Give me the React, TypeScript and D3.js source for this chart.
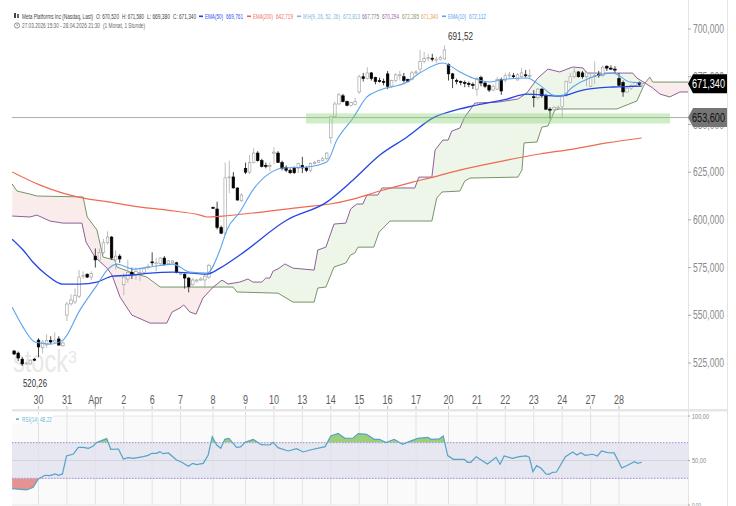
import React from "react";
import * as d3 from "d3";

// open, high, low, close – hourly bars, first bar has index 1
const candles: number[][] = [
[531.3,531.8,529.2,529.7],[530.2,531,526,527.6],[527,528,523.5,524.5],[525,525.6,524.4,525],[524.5,527,524,526.5],[527,527.5,526,526.5],
[537,538,528,533.4],[533,537,530,536],[534.5,540,533,536.8],[536.8,539,535,536],[536,541,535.5,537],[537.6,539,534,534.4],[534,537,533.5,535.5],
[550.1,557,547,555.9],[556,561,555,558],[557,564,556,560.5],[560,573.7,559,570],[570.5,573,569,571],[571.5,572,569.5,570],[570,573,568.5,572],
[581,585,575,579],[579,585,578,583],[583,590,582,588],[588,594,587,591],[591,591.5,579,580],[579,584,574,581],[581,582,577.5,579.5],
[566,572,560.5,570],[569,579,567,572.5],[572.5,575,569,571.5],[571,575,568.5,573],[572,575,568,572.5],[572.5,575.5,572,574.5],[575,577,574,575.5],
[578,583,576,577.5],[577,580,573,577.5],[577,580.5,576.5,580],[580,581,576,576.5],[577,579,576.5,578.5],[577.5,579,577,578.5],[577.5,578,572,572.5],
[572,572.5,571,572],[571.5,572,564,569.5],[569.5,570,562,565],[566,569.5,565.5,568.5],[568,569,567,568.5],[568.5,570,568,569],[568.5,572,564,570.5],[570,577,569,576],
[606.5,607,606,606.3],[605.7,609.5,595,596],[596,597,592.5,593],[593,630,592,622],[622,631,614,622.5],[622.5,625,616.5,616.7],[616.7,617,610,610.4],[610,614,609.5,613],
[627,630,624,625],[625,634,624,630],[630,637.5,629.5,635],[635,636,630.5,631],[631,632,627.5,628],[628.5,630,627,628],[628,630,625.5,628.5],
[635,638,629,635.5],[635,636,630,630],[630,631,626,627],[627.5,628.5,625,626],[626,627,624,624.7],[627,628,624,624.7],[627,630,624.5,629.5],
[628.5,633,624.5,627.2],[627.2,628,625,626],[626,630,624.8,629.5],[629.5,631,629,630],[630,631.5,630,631],[631,633,630.5,632],[632,635.5,631.5,635],
[643,654.5,640,654],[654,662,653.5,660.7],[660.7,666.5,660.5,665.5],[665,666,661.5,662],[662,662.5,659.5,660],[660,662,659.5,661.5],[660.5,664,660,662],
[667,676,666,675],[675,677,672.5,674],[674,680,673.5,677],[677,677.5,673,674],[674.5,675,671,672.5],[673,674.5,672,672.7],[672.5,674,670.5,672],
[676.5,678,668.5,670],[670,673.5,669,673],[673,677,672,676],[675.5,678,673,676],[675,677,672,673],[673.5,674,672,672.5],[673.5,678,673,677],
[677,678.5,676,677.5],[679,689,677,683],[683,688,682,684.5],[684.5,687,683,685],[684.7,687,683,684.5],[684,685.5,682,684.2],[684,686,683.5,685],[684.3,691.5,684,689],
[681.5,682,673,676.5],[676.5,677,669,674],[673,674,671,672.5],[672.5,673,670.5,672],[672,673,669.5,671.5],[671.5,672.5,669.5,671.4],[671,672,668.5,670.8],
[668.5,675,665,674],[674.5,675.5,670,671.7],[671.7,672.5,669,670],[670.5,671,667,668],[668,671,667.5,670],[668.5,675,668,673.5],[673.5,674.5,665.5,667.5],
[673,677,672,675.5],[675.5,677.5,674,676],[675.5,677,674,675.2],[673.3,677,673,676],[675,679.5,674.5,677],[676,678.5,674.5,675.7],[675.5,679,674,675.7],
[664.5,668,659,664],[664,669,663,668.5],[668.5,669,664,665],[665,666,657.5,658],[658,659,653,657.5],[658,659.5,657,659],[658.7,660,658,659],
[659.5,666,653,665],[665,673,664.5,672.5],[672,677,671.5,675],[675,680,674,677.5],[677.5,678,674.5,675],[677,678,674,675],[675,678,670,677],
[670,677.5,669.5,674.5],[675.5,683,671,675.7],[676.3,678,674.5,675.5],[675.5,681,675,680],[680.5,681,678,679.5],[679.5,681,678.5,679.3],[679,680.5,677,678.8],
[674,677,670,670.5],[672,673,664.5,667],[667,670,666.5,669],[669,671,668,670.5],[670.5,672.5,670,672],[672,672.5,670,671],[670.52,671.58,669.38,671.34],
];

const ema200: number[][] = [[0.5,625.1],[7.4,618.2],[13,614],[18,611.4],[24.6,609.3],[30.3,607.2],[38.6,605.1],[46.8,602.5],[48.5,601.5],[52.4,602],[59.8,603.6],[72.1,606.7],[78.8,608.3],[84.5,610.9],[91.1,615.1],[99.2,619.8],[104.2,622.4],[110.8,626.1],[122.4,631.3],[130.5,634.5],[138.6,637.1],[147,640.3],[155.6,642.9]];
const ema50: number[][] = [[0.5,589.9],[3.2,584.2],[5.6,577.9],[9.1,571],[13,566.3],[17.2,566.3],[21.4,567.4],[25.3,570.5],[30.3,571.1],[34.5,572.1],[40.1,572.6],[45,572.1],[48.5,571.6],[51.7,574.7],[56.6,581.6],[68.2,599.9],[78,609.3],[84.5,620.9],[91.1,634],[97.8,643.4],[104.2,653.4],[110.8,658.1],[114,659.7],[122.4,663.3],[127.3,665.9],[135.4,664.9],[141.1,668],[148.5,669.6],[155.6,670.1]];
const ema10: number[][] = [[0.5,554.3],[3.2,543.8],[6.1,536],[9.8,534.9],[13,537],[17.2,552.7],[21.4,565.8],[23.9,573.7],[26.3,576.8],[30.3,574.2],[34.5,575.3],[40.1,576.8],[44.3,572.6],[48.5,572.1],[51.7,584.2],[53.4,594.7],[56.6,604.1],[59.8,615.6],[64,624.5],[67.2,627.2],[73.1,627.7],[78,630.3],[80.5,641.8],[84.5,653.4],[87.9,664.4],[91.1,668],[97.8,672.2],[100.9,676.9],[106.6,682.2],[110.8,677.5],[114,674.3],[118.2,672.2],[120.7,673.3],[127.3,674.3],[130.5,670.6],[133.7,665.4],[135.9,664.9],[138.6,669.6],[142.8,674.3],[148.5,676.9],[152.7,672.2],[155.6,671.7]];
const spanPurple: number[][] = [[0.5,602],[4.9,601.5],[6.6,602.5],[9.8,599.4],[13,598.3],[17.7,598.3],[18.7,588.4],[20.9,580.5],[23.9,574.7],[25.1,571.1],[27.1,559.5],[30,550.1],[34.5,545.9],[38.6,545.9],[39.9,551.7],[41.8,553.8],[42.8,555.4],[44.3,551.7],[45.8,550.6],[47.5,559],[50,564.7],[52.2,568.4],[53.7,566.4],[56.6,567.4],[58.6,569],[59.8,567.4],[62,567.4],[63,569.5],[64,569.5],[64.8,573.2],[66,574.3],[67.7,576.9],[69.7,574.7],[74.9,573.7],[75.8,584.2],[77.8,585.7],[79.8,597.8],[82.7,598.3],[83.9,605.7],[85.4,608.3],[86.9,608.3],[87.9,613],[90.6,613],[91.6,616.7],[99.7,616.7],[100.7,622.4],[103.9,622.4],[104.7,636.6],[106.6,641.8],[107.9,641.8],[108.8,646.5],[110.8,648.1],[112,653.9],[113.8,659.1],[114.5,661.2],[120.2,661.7],[125.1,663.3],[127.3,666.5],[130,674.3],[132.5,679],[135.4,677.5],[138.6,680.1],[141.1,679.6],[142.1,676.9],[153.4,676.9],[154.4,674.3],[156.4,671.7],[158.3,669.1],[160.1,665.9],[162.5,664.4],[165,667],[167,667]];
const spanGreen: number[][] = [[0.5,618.8],[1.7,615.1],[4.9,613.5],[6.6,612.5],[18,612],[19,601.5],[21.4,594.7],[22.9,580.5],[25.8,578.9],[26.3,575.3],[30.3,572.1],[33.7,570],[37,564.8],[46.8,564.8],[54.9,564.8],[55.9,562.2],[66,561.6],[69.7,556.9],[74.9,556.9],[75.8,564.3],[77.8,564.8],[79.8,575.3],[82.7,577.4],[83.9,581.6],[84.9,582.6],[85.7,585.7],[89.6,585.7],[90.9,593.6],[93.6,599.4],[103.9,599.4],[105.1,611.4],[106.4,614.6],[110.8,615.1],[112,620.3],[113.3,621.9],[125.1,622.4],[126.1,626.1],[126.6,640.3],[129.8,640.8],[131,648.6],[132.5,649.2],[134.2,657.5],[135.4,658.1],[149.5,658.1],[154.4,662.3],[156.4,671.7],[157.6,674.8],[158.3,672.2],[167,672.2]];
const rsi: number[][] = [[0.5,18.4],[4.1,16.9],[5.7,19.9],[6.9,28.9],[8.6,33.4],[9.8,33],[11.1,34.9],[11.9,33.4],[12.9,34.9],[13.9,55.1],[15.6,57.3],[16.8,64.8],[18,64.8],[19.3,63.7],[20.5,66.3],[21.3,70.1],[23.8,74.6],[24.8,62.6],[26.7,62.9],[27.9,51.7],[29.1,53.2],[30.4,52.5],[32.8,54.3],[34,55.8],[34.9,58.1],[36.1,58.1],[36.9,60],[37.7,57.7],[39,58.5],[41,50.6],[42.3,48],[43.9,43.5],[45,46.8],[45.9,45.3],[47.6,46.8],[48.8,56.2],[49.8,76.8],[50.9,67.4],[51.9,63.7],[52.9,73.8],[53.9,74.9],[55.8,64.8],[56.8,65.2],[57.9,70.4],[59.9,73.8],[61.8,67.8],[64,67.4],[64.8,70.4],[66,64.4],[68.5,60.7],[70.6,63.3],[72.2,59.6],[73.9,61.8],[77.6,65.6],[79,77.6],[80.8,80.5],[82.5,74.9],[84.5,75.3],[85.8,80.2],[87.8,79.4],[89.7,73.8],[91,73.8],[92.6,70.1],[94.6,73.8],[96.7,68.2],[98.3,71.2],[100.4,74.9],[102.9,76],[103.7,73.8],[105.7,74.2],[106.7,77.6],[107.8,55.5],[109.2,51.3],[111.9,51.3],[112.7,48],[113.5,48],[114.8,54.3],[117.6,46.1],[119.7,53.6],[120.7,45.7],[121.7,55.1],[123.8,52.5],[125.4,54.3],[127.1,55.1],[127.9,53.6],[128.8,37.5],[129.7,44.2],[130.8,41.2],[132,34.9],[132.8,34.5],[133.6,36.7],[134.6,37.1],[136.8,54.3],[138.6,59.6],[139.6,56.2],[140.6,58.8],[141.7,55.8],[143.5,57],[144.7,55.1],[145.7,60.7],[147.2,58.8],[148.8,58.5],[150.7,41.6],[152.1,44.6],[153.8,48.7],[154.6,46.8],[155.6,48]];

const dayLabels = ["30","31","Apr","2","6","7","8","9","10","13","14","15","16","17","20","21","22","23","24","27","28"];
const dayIndex = [7,14,21,28,35,42,50,58,65,72,79,86,93,100,108,115,122,129,136,143,150];
const priceTicks = [700,675,650,625,600,575,550,525];
const rsiTicks = [100,50,0];
const lastPrice = 671.34;
const linePrice = 653.6;
const bandLow = 650.5;
const bandHigh = 655.8;
const peakHigh = 691.52;
const peakLow = 520.26;

const W = 736, H = 506;
const x = d3.scaleLinear().domain([7, 150]).range([38.5, 619]);
const y = d3.scaleLinear().domain([525, 700]).range([363, 29]);
const yR = d3.scaleLinear().domain([0, 100]).range([505, 416]);
const plotL = 12, plotR = 688, axisR = 727;

const fmt = (v: number, d = 3) => v.toFixed(d).replace(".", ",");
const line = d3.line<number[]>().x(d => x(d[0])).y(d => y(d[1]));
const smooth = d3.line<number[]>().x(d => x(d[0])).y(d => y(d[1])).curve(d3.curveMonotoneX);
const rsiLine = d3.line<number[]>().x(d => x(d[0])).y(d => yR(d[1]));
const rsiArea = (base: number) => d3.area<number[]>().x(d => x(d[0])).y0(yR(base)).y1(d => yR(d[1]));
const aboveArea = (a: number[][]) => d3.area<number[]>().x(d => x(d[0])).y0(0).y1(d => y(d[1]))(a)!;
const belowArea = (a: number[][]) => d3.area<number[]>().x(d => x(d[0])).y0(400).y1(d => y(d[1]))(a)!;

function T({ x, y, w, size, fill, anchor, weight, children }: any) {
  return (
    <text x={x} y={y} fontSize={size} fill={fill} textAnchor={anchor || "start"} fontWeight={weight}
      textLength={w} lengthAdjust="spacingAndGlyphs" fontFamily="'Liberation Sans', Arial, sans-serif">{children}</text>
  );
}

const headerItems: [string, number, number, string][] = [
  ["Meta Platforms Inc (Nasdaq, Last)", 22, 71, "#444"],
  ["O: 670,520", 96, 23, "#444"],
  ["H: 671,580", 122, 22, "#444"],
  ["L: 669,380", 147, 23, "#444"],
  ["C: 671,340", 173, 23, "#444"],
  ["EMA(50)", 205, 18, "#2f52f0"],
  ["669,761", 226, 17, "#2f52f0"],
  ["EMA(200)", 253, 20, "#ef6f5f"],
  ["642,719", 276, 17, "#ef6f5f"],
  ["IKH(9, 26, 52, 26)", 303, 37, "#7db6d6"],
  ["672,813", 343, 17, "#7db6d6"],
  ["667,775", 362, 17, "#86788a"],
  ["670,294", 382, 17, "#a05fa6"],
  ["672,285", 402, 17, "#7f9a6e"],
  ["671,340", 421, 17, "#e5a650"],
  ["EMA(10)", 448, 18, "#5da2ef"],
  ["672,112", 469, 17, "#5da2ef"],
];
const headerDashes: [number, string][] = [[199, "#1f3ff0"], [247, "#ef5f4f"], [297, "#7db6d6"], [442, "#5da2ef"]];

function PriceFlag({ value, fill, textFill }: any) {
  const c = y(value);
  const path = d3.path();
  path.moveTo(plotR, c);
  path.lineTo(plotR + 5, c - 9.5);
  path.lineTo(axisR, c - 9.5);
  path.lineTo(axisR, c + 9.5);
  path.lineTo(plotR + 5, c + 9.5);
  path.closePath();
  return (
    <g>
      <path d={path.toString()} fill={fill} />
      <T x={692} y={c + 4.2} w={33} size={12} fill={textFill}>{fmt(value)}</T>
    </g>
  );
}

export default function App() {
  return (
    <svg width={W} height={H} viewBox={`0 0 ${W} ${H}`}
      style={{ position: "absolute", left: 0, top: 0, display: "block", background: "#fff" }}>
      <defs>
        <clipPath id="plot"><rect x={plotL} y={0} width={plotR - plotL} height={408} /></clipPath>
        <clipPath id="abovePurple"><path d={aboveArea(spanPurple)} /></clipPath>
        <clipPath id="aboveGreen"><path d={aboveArea(spanGreen)} /></clipPath>
        <clipPath id="rsiHigh"><rect x={plotL} y={yR(100)} width={plotR - plotL} height={yR(70) - yR(100)} /></clipPath>
        <clipPath id="rsiLow"><rect x={plotL} y={yR(30)} width={plotR - plotL} height={yR(0) - yR(30)} /></clipPath>
      </defs>

      {/* header */}
      <g>
        <rect x={14} y={13} width={2} height={5} fill="#444" />
        <rect x={17} y={14} width={2} height={4} fill="#666" />
        <circle cx={17} cy={25.5} r={2.6} fill="none" stroke="#666" strokeWidth={0.7} />
        <path d="M17 24v1.6h1" fill="none" stroke="#666" strokeWidth={0.6} />
        {headerItems.map(([t, tx, w, c]) => <T key={t + tx} x={tx} y={18.6} w={w} size={6.8} fill={c}>{t}</T>)}
        {headerDashes.map(([dx, c]) => <rect key={dx} x={dx} y={15.5} width={4} height={1.6} fill={c} />)}
        <T x={22} y={28.4} w={78} size={6.6} fill="#666">27.03.2026 15:30 - 28.04.2026 21:30</T>
        <T x={103} y={28.4} w={42} size={6.6} fill="#666">(1 Monat, 1 Stunde)</T>
      </g>

      {/* watermark */}
      <g>
        <T x={13} y={372} w={55} size={31} fill="#e8e8e8">stock</T>
        <T x={68} y={363} w={9} size={17} fill="#e8e8e8">3</T>
      </g>

      {/* axis frame */}
      <line x1={plotR + 0.5} x2={plotR + 0.5} y1={0} y2={H} stroke="#e3e3e3" />
      <line x1={axisR + 0.5} x2={axisR + 0.5} y1={0} y2={H} stroke="#e3e3e3" />

      <g clipPath="url(#plot)">
        {/* Ichimoku cloud */}
        <path d={belowArea(spanPurple)} fill="#eef6e9" clipPath="url(#aboveGreen)" />
        <path d={belowArea(spanGreen)} fill="#f9ecea" clipPath="url(#abovePurple)" />
        <path d={line(spanGreen)!} fill="none" stroke="#76946a" strokeWidth={1} />
        <path d={line(spanPurple)!} fill="none" stroke="#8f6098" strokeWidth={1} />

        {/* level line */}
        <line x1={plotL} x2={plotR} y1={y(linePrice)} y2={y(linePrice)} stroke="#aeaeae" strokeWidth={1} />

        {/* candles */}
        {candles.map((c, k) => {
          const [o, h, l, cl] = c;
          const up = cl >= o;
          const cx = x(k + 1);
          const top = y(Math.max(o, cl));
          const bot = y(Math.min(o, cl));
          return (
            <g key={k}>
              <line x1={cx} x2={cx} y1={y(h)} y2={y(l)} stroke={up ? "#b4b4b4" : "#333"} strokeWidth={0.9} />
              <rect x={cx - 1.3} y={top} width={2.6} height={Math.max(bot - top, 1)}
                fill={up ? "#fff" : "#000"} stroke={up ? "#9a9a9a" : "#000"} strokeWidth={0.6} />
            </g>
          );
        })}

        {/* moving averages */}
        <path d={smooth(ema200)!} fill="none" stroke="#ee6a50" strokeWidth={1.2} />
        <path d={smooth(ema50)!} fill="none" stroke="#2346e6" strokeWidth={1.3} />
        <path d={smooth(ema10)!} fill="none" stroke="#5ba3ee" strokeWidth={1.1} />

        {/* support band */}
        <rect x={306} y={y(bandHigh)} width={364} height={y(bandLow) - y(bandHigh)} fill="#86d272" fillOpacity={0.4} />
      </g>

      <T x={448} y={40} w={25} size={11.5} fill="#333">{fmt(peakHigh, 2)}</T>
      <T x={23} y={387} w={24} size={11.5} fill="#333">{fmt(peakLow, 2)}</T>

      {/* price axis */}
      {priceTicks.map(t => (
        <g key={t}>
          <line x1={plotR} x2={plotR + 3} y1={y(t)} y2={y(t)} stroke="#aaa" />
          <T x={693} y={y(t) + 4.2} w={31} size={12} fill="#8a8a8a">{fmt(t)}</T>
        </g>
      ))}
      <PriceFlag value={linePrice} fill="#757575" textFill="#111" />
      <PriceFlag value={lastPrice} fill="#000" textFill="#fff" />

      {/* time axis */}
      {dayIndex.map((d, k) => {
        const w = dayLabels[k].length === 3 ? 14 : dayLabels[k].length === 2 ? 10 : 5;
        return (
          <g key={d}>
            <T x={x(d)} y={404} w={w} size={12} fill="#5e5e5e" anchor="middle">{dayLabels[k]}</T>
            <line x1={x(d)} x2={x(d)} y1={406} y2={409} stroke="#bbb" />
          </g>
        );
      })}

      {/* RSI panel */}
      <rect x={plotL} y={409} width={axisR - plotL} height={2.5} fill="#e6e6e6" />
      <rect x={plotL} y={yR(100)} width={plotR - plotL} height={yR(0) - yR(100)} fill="#fafafa" />
      <rect x={plotL} y={yR(70)} width={plotR - plotL} height={yR(30) - yR(70)} fill="#e7e7f2" />
      {dayIndex.map(d => <line key={d} x1={x(d)} x2={x(d)} y1={412} y2={505} stroke="#e2e2e6" />)}
      <line x1={plotL} x2={plotR} y1={yR(100)} y2={yR(100)} stroke="#e6e6e6" />
      <line x1={plotL} x2={plotR} y1={yR(50)} y2={yR(50)} stroke="#d4d4de" />
      <line x1={plotL} x2={plotR} y1={yR(0)} y2={yR(0)} stroke="#e6e6e6" />
      <path d={rsiArea(70)(rsi)!} fill="#9fce78" clipPath="url(#rsiHigh)" />
      <path d={rsiArea(30)(rsi)!} fill="#e69290" clipPath="url(#rsiLow)" />
      {[70, 30].map(v => (
        <line key={v} x1={plotL} x2={plotR} y1={yR(v)} y2={yR(v)} stroke="#9a90dc" strokeWidth={1} strokeDasharray="1.5 1.5" />
      ))}
      <path d={rsiLine(rsi)!} fill="none" stroke="#55a3c6" strokeWidth={1.2} />
      <rect x={plotL} y={415} width={41} height={8} fill="#fff" />
      <rect x={16} y={418.4} width={3} height={1.4} fill="#55a3c6" />
      <T x={22} y={421.5} w={30} size={6.6} fill="#72b4d0">RSI(14)  48,22</T>
      {rsiTicks.map(t => (
        <g key={t}>
          <line x1={plotR} x2={plotR + 2} y1={yR(t)} y2={yR(t)} stroke="#aaa" />
          <T x={692} y={yR(t) + 2.5} w={t === 0 ? 9 : t === 100 ? 17 : 14} size={7} fill="#8a8a8a">{fmt(t, 2)}</T>
        </g>
      ))}
    </svg>
  );
}
